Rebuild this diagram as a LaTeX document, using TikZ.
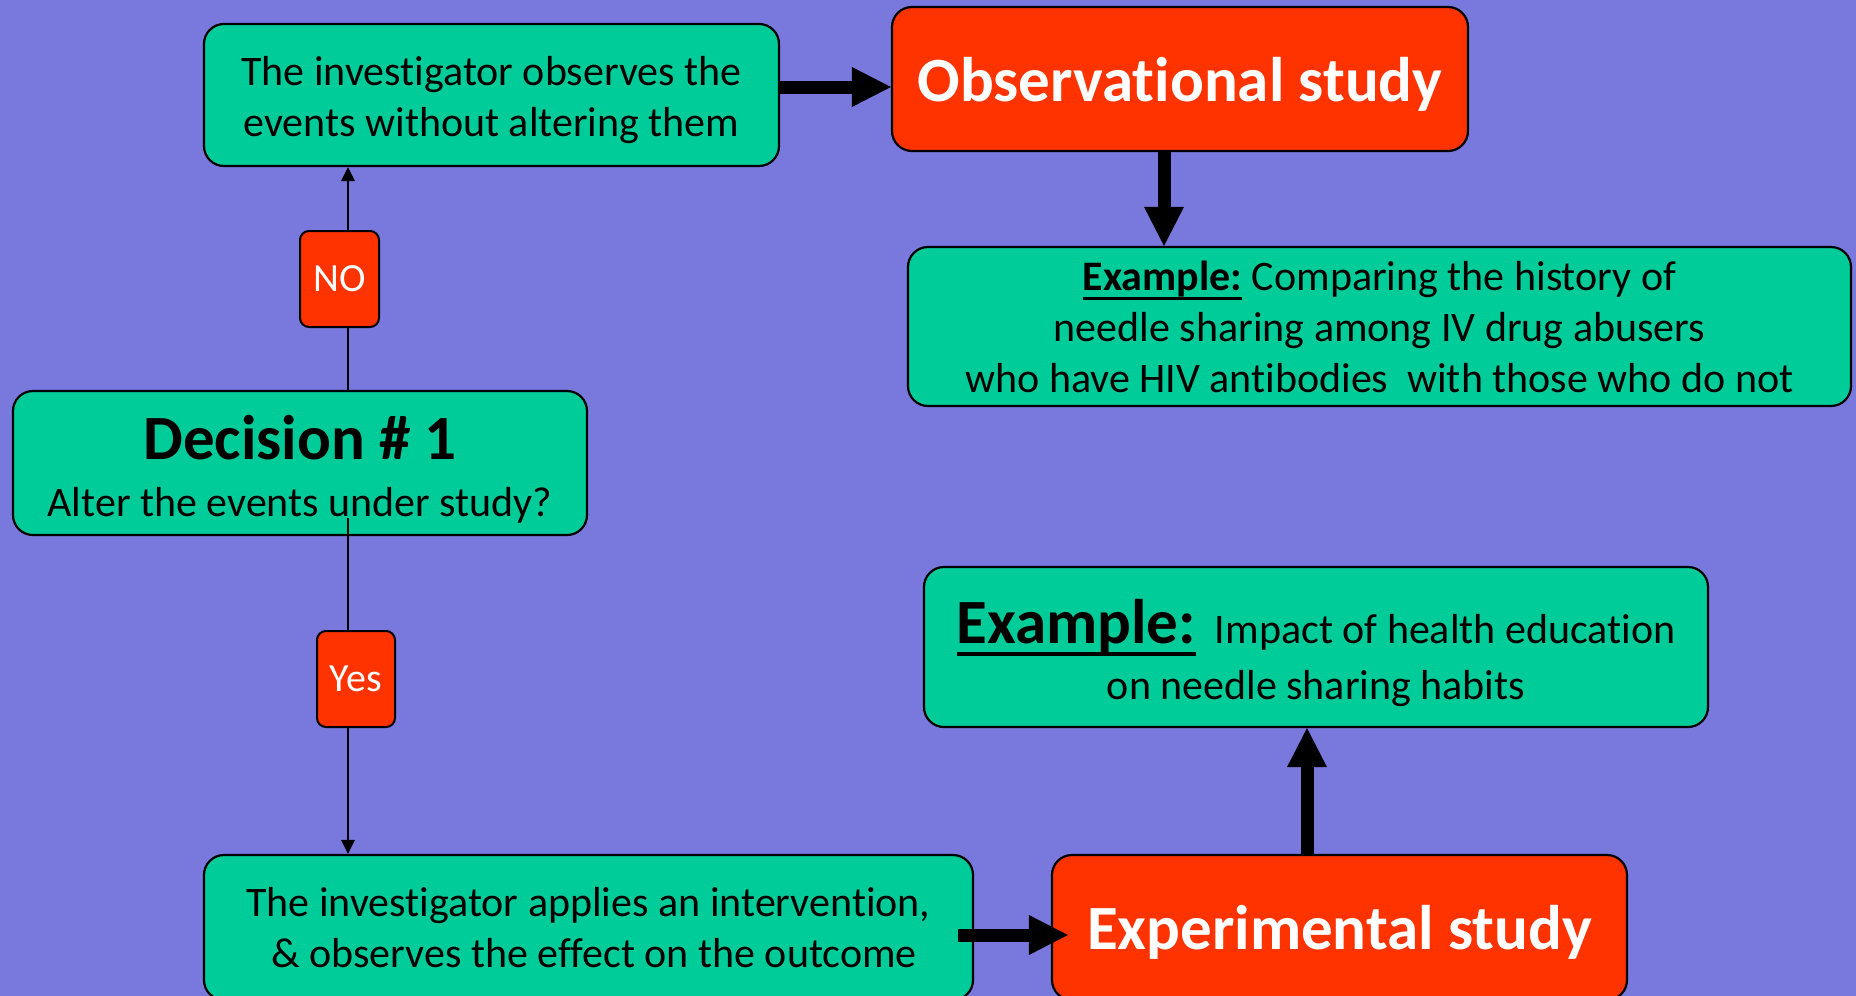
\documentclass[tikz,border=0pt]{standalone}
\usepackage{fontspec}
\setmainfont{Carlito}[Ligatures={NoCommon}]
\usetikzlibrary{arrows.meta,calc}
\definecolor{bgpurple}{HTML}{7979DD}
\definecolor{boxgreen}{HTML}{00CC99}
\definecolor{boxred}{HTML}{FF3300}
% underline with a rule of given offset (#1) and thickness (#2)
\newcommand\exampleul[3]{\setbox0=\hbox{#3}\rlap{\rule[-#1]{\wd0}{#2}}\box0\relax}
\begin{document}
\begin{tikzpicture}[x=1pt,y=-1pt,
  greenbox/.style={draw=black, line width=2.2pt, fill=boxgreen, rounded corners=20pt,
    align=center, inner sep=0pt, font=\fontsize{42}{51}\selectfont},
  redbox/.style={draw=black, line width=2.2pt, fill=boxred, rounded corners=20pt,
    text=white, inner sep=0pt, font=\fontsize{63}{70}\selectfont\bfseries},
  tagbox/.style={draw=black, line width=2pt, fill=boxred, rounded corners=9pt,
    text=white, inner sep=0pt, minimum width=79pt, minimum height=96pt,
    font=\fontsize{40}{48}\selectfont},
  thinarrow/.style={line width=2pt, -{Triangle[length=14pt,width=14pt,line width=0pt]}},
  bigarrow/.style={line width=13pt, -{Triangle[length=39pt,width=40pt,line width=0pt]}},
]
\useasboundingbox (0,0) rectangle (1856,996);
\fill[bgpurple] (0,0) rectangle (1856,996);
\clip (0,0) rectangle (1856,996);

% boxes
\node[greenbox, minimum width=575pt, minimum height=142pt] (topbox) at (491.5,95)
  {\rule{0pt}{40pt}The investigator observes the\\events without altering them};
\node[redbox, minimum width=576pt, minimum height=144pt] (obs) at (1180,79)
  {\rule{0pt}{54pt}Observational study};
\node[greenbox, minimum width=943pt, minimum height=159pt] (ex1) at (1379.5,326.5)
  {\exampleul{10pt}{3pt}{\bfseries Example:} Comparing the history of\\
   needle sharing among IV drug abusers\\
   who have HIV antibodies\ \ with those who do not};
\node[greenbox, minimum width=574pt, minimum height=144pt] (decision) at (300,463)
  {\rule{0pt}{57pt}{\fontsize{63}{63}\selectfont\bfseries Decision \# 1}\\[6pt]
   Alter the events under study?};
\node[greenbox, minimum width=784pt, minimum height=160pt] (ex2) at (1316,647)
  {\rule{0pt}{56pt}\exampleul{13pt}{4pt}{\fontsize{63}{63}\selectfont\bfseries Example:}\hspace{19pt}Impact of health education\\[5pt]
   on needle sharing habits};
\node[greenbox, minimum width=769pt, minimum height=145pt] (botbox) at (588.5,927.5)
  {The investigator applies an intervention,\\\hspace*{11pt}\& observes the effect on the outcome};
\node[redbox, minimum width=575pt, minimum height=145pt] (exp) at (1339.5,927.5)
  {\rule{0pt}{54pt}Experimental study};

% decision connectors
\coordinate (stem) at (348,518);
\draw[thinarrow] (decision.north -| stem) -- (topbox.south -| stem);
\draw[thinarrow] (stem) -- (botbox.north -| stem);
\node[tagbox] (no) at (339.5,279) {NO};
\node[tagbox, minimum width=78pt] (yes) at (356,679) {Yes};

% thick connectors
\draw[bigarrow] ([yshift=8pt]topbox.east) -- ([yshift=-8pt]obs.west);
\draw[bigarrow] ([xshift=-16pt]obs.south) coordinate (obsfoot) -- (obsfoot |- ex1.north);
\draw[bigarrow] ([shift={(-16pt,-7.5pt)}]botbox.east) -- ([shift={(17pt,-7.5pt)}]exp.west);
\draw[bigarrow] ([xshift=-32.5pt]exp.north) coordinate (expfoot) -- (expfoot |- ex2.south);
\end{tikzpicture}
\end{document}
